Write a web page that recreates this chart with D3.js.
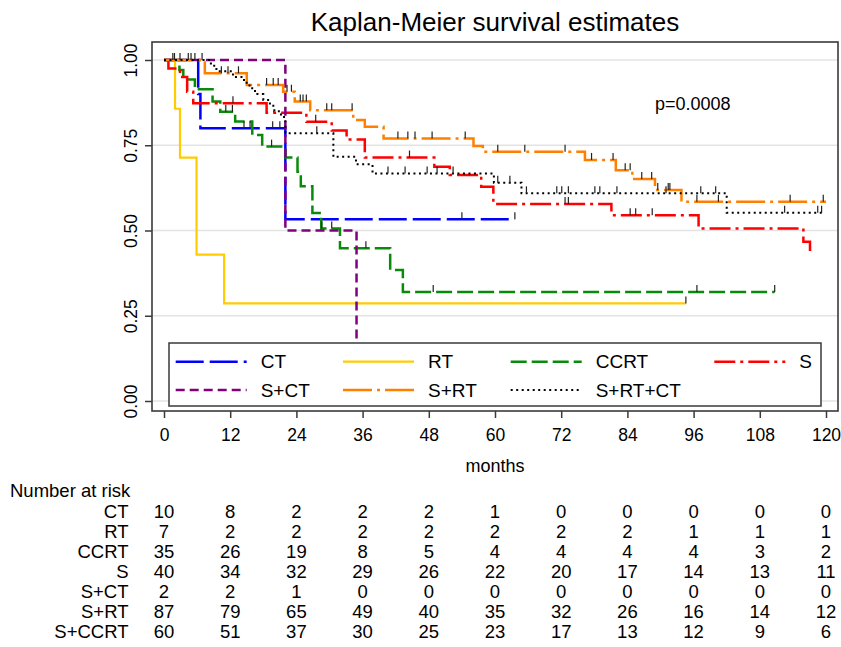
<!DOCTYPE html>
<html>
<head>
<meta charset="utf-8">
<script src="https://cdn.jsdelivr.net/npm/d3@7"></script>
<style>
  body { margin: 0; background: #fff; }
  svg { display: block; font-family: Arial, "Liberation Sans", sans-serif; }
</style>
</head>
<body>
<div id="container"></div>
<script>
/* CONSTANTS AND GLOBALS */
const width = 841;
const height = 647;

/* DATA */
const monthTicks = [0, 12, 24, 36, 48, 60, 72, 84, 96, 108, 120];
const survTicks = [0, 0.25, 0.5, 0.75, 1];

// CT
const ctTimes = [6.2, 6.6, 22.0];
const ctSurv = [0.9, 0.8, 0.533];
const ctCensor = [14.5, 15.6, 19.7, 21.0, 54.0, 63.6];
const ctEnd = 63.6;

// RT
const rtTimes = [2.0, 2.9, 5.9, 10.9];
const rtSurv = [0.857, 0.714, 0.429, 0.286];
const rtCensor = [94.6];
const rtEnd = 94.6;

// CCRT
const ccrtTimes = [2.8, 3.5, 5.6, 8.8, 10.2, 12.9, 16.0, 17.8, 22.0, 24.2, 24.8, 26.9, 28.5, 31.9, 41.0, 43.3];
const ccrtSurv = [0.971, 0.943, 0.914, 0.878, 0.848, 0.82, 0.78, 0.746, 0.714, 0.672, 0.63, 0.551, 0.506, 0.448, 0.384, 0.32];
const ccrtCensor = [11.2, 12.4, 19.5, 28.6, 30.4, 36.6, 48.8, 96.6, 110.7];
const ccrtEnd = 110.7;

// S
const sTimes = [0.8, 2.9, 4.2, 5.3, 18.6, 25.8, 30.4, 33.1, 36.4, 49.0, 51.8, 57.5, 59.7, 81.1, 96.9, 115.9, 117.1];
const sSurv = [0.975, 0.95, 0.907, 0.873, 0.845, 0.819, 0.793, 0.767, 0.714, 0.687, 0.663, 0.628, 0.578, 0.545, 0.506, 0.467, 0.44];
const sCensor = [12.5, 27.5, 44.5, 72.7, 73.3, 84.5, 85.5, 88.5];
const sEnd = 117.1;

// S+CT
const sctTimes = [22.0, 34.9];
const sctSurv = [0.5, 0];
const sctCensor = [];
const sctEnd = 34.9;

// S+RT
const srtTimes = [7.4, 15.0, 21.6, 23.7, 26.5, 34.3, 36.4, 39.8, 56.1, 57.8, 76.3, 81.9, 84.9, 89.0, 93.8];
const srtSurv = [0.961, 0.927, 0.907, 0.878, 0.853, 0.824, 0.804, 0.77, 0.748, 0.731, 0.707, 0.677, 0.651, 0.619, 0.584];
const srtCensor = [1.6, 2.9, 4.4, 5.6, 10.4, 11.6, 13.5, 18.6, 19.8, 20.7, 22.3, 23.1, 24.7, 25.2, 25.8, 29.5, 30.4, 34.1,
  42.4, 44.2, 45.5, 48.6, 54.6, 60.5, 65.4, 72.7, 77.5, 81.4, 83.6, 84.5, 86.6, 88.4, 89.5, 91.4, 91.7, 96.6, 100.5, 113.5, 119.5];
const srtEnd = 120;

// S+RT+CT
const srtctTimes = [8.5, 9.5, 12.5, 14.5, 15.5, 16.5, 18.0, 19.2, 20.0, 21.2, 22.0, 30.7, 34.8, 37.8, 59.8, 64.8, 102.0];
const srtctSurv = [0.983, 0.967, 0.95, 0.933, 0.917, 0.9, 0.883, 0.866, 0.85, 0.833, 0.785, 0.716, 0.694, 0.667, 0.64, 0.609, 0.552];
const srtctCensor = [1.9, 4.9, 6.9, 27.7, 40.6, 43.7, 47.7, 49.5, 52.4, 60.5, 62.7, 65.7, 71.2, 72.1, 73.3, 78.1, 79.0, 82.1,
  91.0, 97.3, 100.0, 112.5, 118.5, 119.2];
const srtctEnd = 119.8;

// number at risk
const riskLabels = ["CT", "RT", "CCRT", "S", "S+CT", "S+RT", "S+CCRT"];
const riskCT = [10, 8, 2, 2, 2, 1, 0, 0, 0, 0, 0];
const riskRT = [7, 2, 2, 2, 2, 2, 2, 2, 1, 1, 1];
const riskCCRT = [35, 26, 19, 8, 5, 4, 4, 4, 4, 3, 2];
const riskS = [40, 34, 32, 29, 26, 22, 20, 17, 14, 13, 11];
const riskSCT = [2, 2, 1, 0, 0, 0, 0, 0, 0, 0, 0];
const riskSRT = [87, 79, 65, 49, 40, 35, 32, 26, 16, 14, 12];
const riskSCCRT = [60, 51, 37, 30, 25, 23, 17, 13, 12, 9, 6];

const groups = [
  { name: "CT", times: ctTimes, surv: ctSurv, censor: ctCensor, end: ctEnd, color: "#0000ff", dash: "28,6", w: 2.5 },
  { name: "RT", times: rtTimes, surv: rtSurv, censor: rtCensor, end: rtEnd, color: "#ffcc00", dash: null, w: 2.2 },
  { name: "CCRT", times: ccrtTimes, surv: ccrtSurv, censor: ccrtCensor, end: ccrtEnd, color: "#0a8a0a", dash: "16,5", w: 2.5 },
  { name: "S", times: sTimes, surv: sSurv, censor: sCensor, end: sEnd, color: "#ff0000", dash: "21,5,3,5", w: 2.5 },
  { name: "S+CT", times: sctTimes, surv: sctSurv, censor: sctCensor, end: sctEnd, color: "#800080", dash: "9,5", w: 2.5 },
  { name: "S+RT", times: srtTimes, surv: srtSurv, censor: srtCensor, end: srtEnd, color: "#ff7f00", dash: "29,5,3,5", w: 2.5 },
  { name: "S+RT+CT", times: srtctTimes, surv: srtctSurv, censor: srtctCensor, end: srtctEnd, color: "#000000", dash: "2,3.5", w: 2 }
];
const riskRows = [riskCT, riskRT, riskCCRT, riskS, riskSCT, riskSRT, riskSCCRT];

/* SCALES */
const xScale = d3.scaleLinear().domain([0, 120]).range([164, 826]);
const yScale = d3.scaleLinear().domain([0, 1]).range([401, 60]);

const frame = { left: 152, right: 838, top: 42, bottom: 411 };

const svg = d3.select("#container")
  .append("svg")
  .attr("width", width)
  .attr("height", height);

svg.append("rect").attr("width", width).attr("height", height).attr("fill", "#fff");

// title
svg.append("text")
  .attr("x", 495).attr("y", 31)
  .attr("text-anchor", "middle")
  .style("font-size", "26px")
  .text("Kaplan-Meier survival estimates");

// gridlines
svg.selectAll("line.grid")
  .data(survTicks)
  .join("line")
  .attr("class", "grid")
  .attr("x1", frame.left).attr("x2", frame.right)
  .attr("y1", d => yScale(d)).attr("y2", d => yScale(d))
  .attr("stroke", "#e3e3e3")
  .attr("stroke-width", 1.5);

// frame
svg.append("rect")
  .attr("x", frame.left).attr("y", frame.top)
  .attr("width", frame.right - frame.left)
  .attr("height", frame.bottom - frame.top)
  .attr("fill", "none")
  .attr("stroke", "#3a3a3a")
  .attr("stroke-width", 1.6);

// y axis
const yAxis = d3.axisLeft(yScale)
  .tickValues(survTicks)
  .tickSize(7)
  .tickFormat(d3.format(".2f"));
const yG = svg.append("g")
  .attr("transform", `translate(${frame.left},0)`)
  .call(yAxis);
yG.select(".domain").remove();
yG.selectAll(".tick line").attr("stroke", "#3a3a3a").attr("stroke-width", 1.5);
yG.selectAll(".tick text")
  .attr("x", 0).attr("dy", null)
  .attr("transform", "translate(-15.5,0) rotate(-90)")
  .attr("text-anchor", "middle")
  .style("font-size", "17.5px")
  .style("font-family", "Arial, 'Liberation Sans', sans-serif")
  .attr("fill", "#000");

// x axis
const xAxis = d3.axisBottom(xScale)
  .tickValues(monthTicks)
  .tickSize(7)
  .tickPadding(11);
const xG = svg.append("g")
  .attr("transform", `translate(0,${frame.bottom})`)
  .call(xAxis);
xG.select(".domain").remove();
xG.selectAll(".tick line").attr("stroke", "#3a3a3a").attr("stroke-width", 1.5);
xG.selectAll(".tick text")
  .style("font-size", "17.5px")
  .style("font-family", "Arial, 'Liberation Sans', sans-serif")
  .attr("fill", "#000");

svg.append("text")
  .attr("x", 495).attr("y", 471.5)
  .attr("text-anchor", "middle")
  .style("font-size", "18px")
  .text("months");

// curves
function stepPoints(g) {
  const pts = [[0, 1]];
  g.times.forEach((t, i) => pts.push([t, g.surv[i]]));
  pts.push([g.end, g.surv[g.surv.length - 1]]);
  return pts;
}
function survAt(g, t) {
  let s = 1;
  g.times.forEach((tt, i) => { if (tt <= t) s = g.surv[i]; });
  return s;
}

const line = d3.line()
  .x(d => xScale(d[0]))
  .y(d => yScale(d[1]))
  .curve(d3.curveStepAfter);

groups.forEach(g => {
  svg.append("path")
    .datum(stepPoints(g))
    .attr("d", line)
    .attr("fill", "none")
    .attr("stroke", g.color)
    .attr("stroke-width", g.w)
    .attr("stroke-dasharray", g.dash);
});

// censor ticks
groups.forEach(g => {
  svg.selectAll(null)
    .data(g.censor)
    .join("line")
    .attr("x1", d => xScale(d)).attr("x2", d => xScale(d))
    .attr("y1", d => yScale(survAt(g, d)))
    .attr("y2", d => yScale(survAt(g, d)) - 7)
    .attr("stroke", "#222")
    .attr("stroke-width", 1.2);
});

// p value
svg.append("text")
  .attr("x", 655).attr("y", 110)
  .style("font-size", "18px")
  .text("p=0.0008");

// legend
const legend = svg.append("g");
legend.append("rect")
  .attr("x", 169).attr("y", 343)
  .attr("width", 652).attr("height", 63)
  .attr("fill", "#fff")
  .attr("stroke", "#3a3a3a")
  .attr("stroke-width", 1.5);

const legendLabelX = [260.7, 428, 595.7, 799.3];
const legendRowY = [361.7, 390];
groups.forEach((g, i) => {
  const col = i % 4, row = Math.floor(i / 4);
  const lx = legendLabelX[col], ly = legendRowY[row];
  legend.append("line")
    .attr("x1", lx - 85).attr("x2", lx - 14)
    .attr("y1", ly).attr("y2", ly)
    .attr("stroke", g.color)
    .attr("stroke-width", g.w)
    .attr("stroke-dasharray", g.dash);
  legend.append("text")
    .attr("x", lx).attr("y", ly + 6.5)
    .style("font-size", "19px")
    .text(g.name);
});

// number at risk table
svg.append("text")
  .attr("x", 10).attr("y", 497)
  .style("font-size", "18.5px")
  .text("Number at risk");

riskLabels.forEach((lab, r) => {
  const by = 517.5 + r * 20;
  svg.append("text")
    .attr("x", 128.5).attr("y", by)
    .attr("text-anchor", "end")
    .style("font-size", "18.5px")
    .text(lab);
  svg.selectAll(null)
    .data(riskRows[r])
    .join("text")
    .attr("x", (d, i) => xScale(monthTicks[i]))
    .attr("y", by)
    .attr("text-anchor", "middle")
    .style("font-size", "18.5px")
    .text(d => d);
});
</script>
</body>
</html>
